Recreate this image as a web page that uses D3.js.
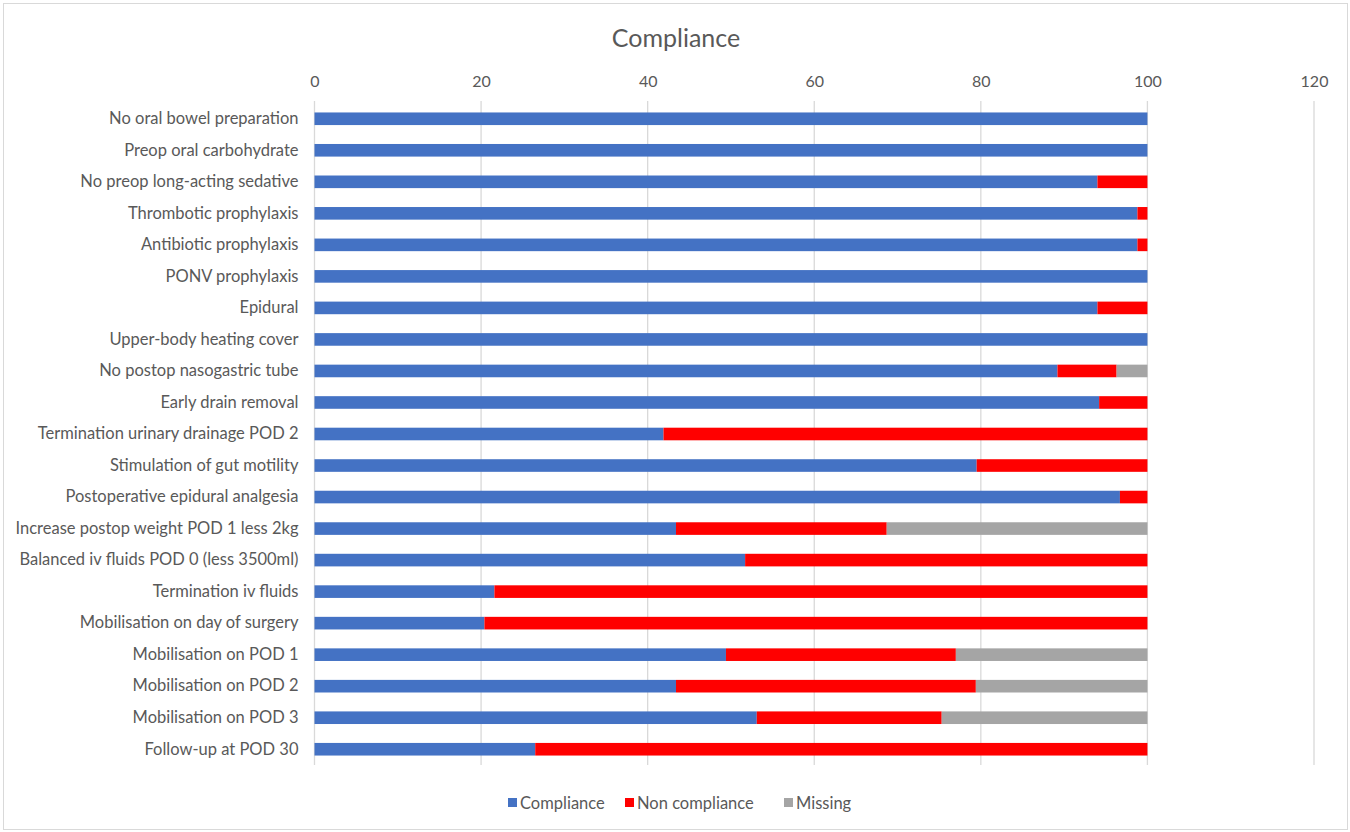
<!DOCTYPE html>
<html>
<head>
<meta charset="utf-8">
<script src="https://cdn.jsdelivr.net/npm/d3@7"></script>
<style>
  body { margin: 0; background: #fff; }
  text { font-family: Lato, "Liberation Sans", sans-serif; fill: #595959; }
</style>
</head>
<body>
<svg id="chart"></svg>
<script>
// ~~~ data ~~~
var categories = [
  "No oral bowel preparation", "Preop oral carbohydrate", "No preop long-acting sedative",
  "Thrombotic prophylaxis", "Antibiotic prophylaxis", "PONV prophylaxis", "Epidural",
  "Upper-body heating cover", "No postop nasogastric tube", "Early drain removal",
  "Termination urinary drainage POD 2", "Stimulation of gut motility",
  "Postoperative epidural analgesia", "Increase postop weight POD 1 less 2kg",
  "Balanced iv fluids POD 0 (less 3500ml)", "Termination iv fluids ",
  "Mobilisation on day of surgery", "Mobilisation on POD 1", "Mobilisation on POD 2",
  "Mobilisation on POD 3", "Follow-up at POD 30"
];
var compliance    = [100, 100, 94, 98.8, 98.8, 100, 94, 100, 89.2, 94.2, 41.9, 79.5, 96.7, 43.4, 51.7, 21.6, 20.4, 49.4, 43.4, 53.1, 26.5];
var nonCompliance = [0, 0, 6, 1.2, 1.2, 0, 6, 0, 7.1, 5.8, 58.1, 20.5, 3.3, 25.3, 48.3, 78.4, 79.6, 27.6, 36.0, 22.2, 73.5];
var missing       = [0, 0, 0, 0, 0, 0, 0, 0, 3.7, 0, 0, 0, 0, 31.3, 0, 0, 0, 23.0, 20.6, 24.7, 0];
var seriesNames = ["Compliance", "Non compliance", "Missing"];
var seriesColors = ["#4472C4", "#FF0000", "#A5A5A5"];
var xTicks = [0, 20, 40, 60, 80, 100, 120];

var width = 1350, height = 832;
var svg = d3.select("#chart").attr("width", width).attr("height", height);

// chart border
svg.append("rect").attr("x", 3.5).attr("y", 3.5).attr("width", width - 6).attr("height", height - 6)
  .attr("fill", "#fff").attr("stroke", "#d9d9d9");

var plot = { left: 314.5, right: 1314, top: 103, bottom: 765 };

var x = d3.scaleLinear().domain([0, 120]).range([plot.left, plot.right]);
var y = d3.scaleBand().domain(categories).range([plot.top, plot.bottom]).paddingInner(0.6).paddingOuter(0.3);

// title
svg.append("text").attr("x", 676).attr("y", 47).attr("text-anchor", "middle")
  .style("font-size", "25px").text("Compliance");

// gridlines
svg.append("g").selectAll("line").data(xTicks).enter().append("line")
  .attr("x1", d => x(d)).attr("x2", d => x(d))
  .attr("y1", plot.top - 2).attr("y2", plot.bottom)
  .attr("stroke", "#d9d9d9").attr("stroke-width", 1.3);

// top axis labels
var xAxis = d3.axisTop(x).tickValues(xTicks).tickSize(0).tickPadding(0);
var gx = svg.append("g").attr("transform", "translate(0,87)").call(xAxis);
gx.select(".domain").remove();
gx.selectAll("text").style("font-size", "16px").style("font-family", "Lato, 'Liberation Sans', sans-serif").attr("fill", "#595959");

// category labels
var yAxis = d3.axisLeft(y).tickSize(0).tickPadding(16);
var gy = svg.append("g").attr("transform", "translate(" + plot.left + ",0)").call(yAxis);
gy.select(".domain").remove();
gy.selectAll("text").style("font-size", "16.5px").style("font-family", "Lato, 'Liberation Sans', sans-serif").attr("fill", "#595959");

// stacked bars
var rows = categories.map(function (c, i) {
  return { cat: c, Compliance: compliance[i], "Non compliance": nonCompliance[i], Missing: missing[i] };
});
var stacked = d3.stack().keys(seriesNames)(rows);

svg.append("g").selectAll("g").data(stacked).enter().append("g")
  .attr("fill", (d, i) => seriesColors[i])
  .selectAll("rect").data(d => d).enter().append("rect")
  .attr("x", d => x(d[0]))
  .attr("width", d => Math.max(0, x(d[1]) - x(d[0])))
  .attr("y", d => y(d.data.cat))
  .attr("height", y.bandwidth());

// legend
var legendX = [508, 625, 784];
var legend = svg.append("g").selectAll("g").data(seriesNames).enter().append("g")
  .attr("transform", (d, i) => "translate(" + legendX[i] + ",798)");
legend.append("rect").attr("width", 9).attr("height", 9).attr("fill", (d, i) => seriesColors[i]);
legend.append("text").attr("x", 12).attr("y", 10.5).style("font-size", "16.5px").text(d => d);
</script>
</body>
</html>
